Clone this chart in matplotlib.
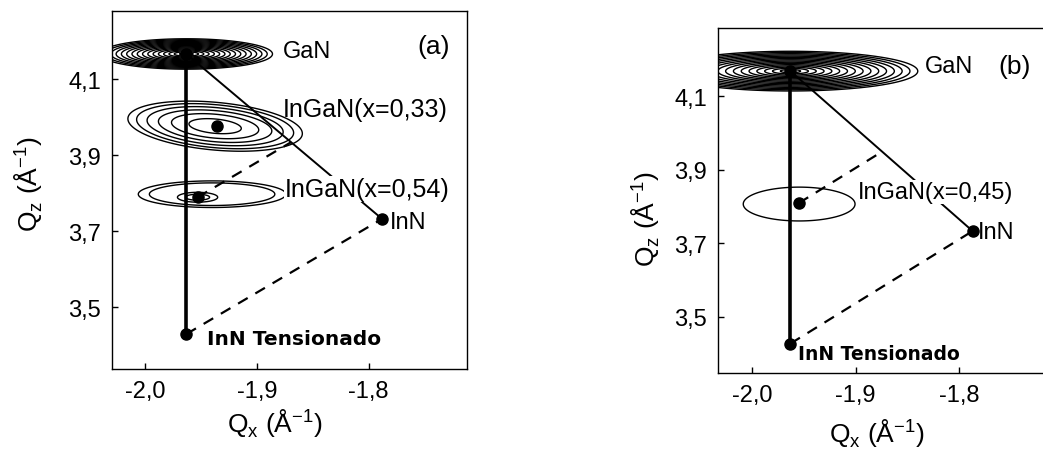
import matplotlib.pyplot as plt
import numpy as np
from matplotlib.ticker import FuncFormatter

plt.rcParams['font.family'] = ['Liberation Sans', 'DejaVu Sans']

# Points read from the maps (Qx, Qz) in 1/Angstrom
# panel (a)
a_gan = (-1.963, 4.166)
a_inn_t = (-1.963, 3.429)
a_inn = (-1.788, 3.732)
a_ingan33 = (-1.9355, 3.976)
a_ingan54 = (-1.953, 3.789)

# panel (b)
b_gan = (-1.963, 4.168)
b_inn_t = (-1.963, 3.427)
b_inn = (-1.787, 3.733)
b_ingan45 = (-1.955, 3.809)

# contour peaks: (cx, cy, half width x, half width y, shear, ring radii)
a_peaks = [
    (-1.963, 4.166, 0.077, 0.040, 0.0, np.linspace(0.08, 1.0, 16)),
    (-1.9373, 3.976, 0.078, 0.063, -0.25, [0.3, 0.5, 0.65, 0.78, 0.9, 1.0]),
    (-1.940, 3.797, 0.066, 0.035, 0.0, [0.85, 1.0]),
    (-1.953, 3.789, 0.018, 0.013, 0.0, [0.6, 1.0]),
]
b_peaks = [
    (-1.963, 4.168, 0.123, 0.054, 0.0, np.linspace(0.08, 1.0, 16)),
    (-1.9546, 3.8065, 0.054, 0.046, 0.0, [1.0]),
]

xticks = [-2.0, -1.9, -1.8]
yticks = [3.5, 3.7, 3.9, 4.1]
a_xlim, a_ylim = (-2.0295, -1.712), (3.337, 4.279)
b_xlim, b_ylim = (-2.033, -1.719), (3.347, 4.285)


def comma(v, pos):
    return f'{v:.1f}'.replace('.', ',')


def meet(p, d, g, h):
    # intersection of line p + t*d with line g -> h
    e = np.subtract(h, g)
    A = np.array([[d[0], -e[0]], [d[1], -e[1]]])
    t, _ = np.linalg.solve(A, np.subtract(g, p))
    return np.add(p, t * np.asarray(d))


def draw_peaks(ax, peaks, xlim, ylim):
    x = np.linspace(*xlim, 700)
    y = np.linspace(*ylim, 700)
    X, Y = np.meshgrid(x, y)
    for cx, cy, wx, wy, sh, radii in peaks:
        R = ((X - cx) / wx) ** 2 + ((Y - cy - sh * (X - cx)) / wy) ** 2
        ax.contour(X, Y, R, levels=np.sort(np.asarray(radii) ** 2),
                   colors='black', linewidths=1.0, zorder=1)


def style(ax, xlim, ylim, right=True):
    ax.set_xlim(*xlim)
    ax.set_ylim(*ylim)
    ax.set_xticks(xticks)
    ax.set_yticks(yticks)
    ax.xaxis.set_major_formatter(FuncFormatter(comma))
    ax.yaxis.set_major_formatter(FuncFormatter(comma))
    ax.tick_params(direction='in', length=4, width=1, labelsize=17, pad=8)
    for s in ax.spines.values():
        s.set_linewidth(1.0)
    ax.spines['right'].set_visible(right)
    ax.set_xlabel(r'Q$_\mathregular{x}$ (Å$^\mathregular{-1}$)', fontsize=19)
    ax.set_ylabel(r'Q$_\mathregular{z}$ (Å$^\mathregular{-1}$)', fontsize=19)


def draw_lines(ax, gan, inn_t, inn, alloys):
    ax.plot([gan[0], inn_t[0]], [gan[1], inn_t[1]], color='black', lw=2.6, zorder=3)
    ax.plot([gan[0], inn[0]], [gan[1], inn[1]], color='black', lw=1.4, zorder=3)
    ax.plot([inn_t[0], inn[0]], [inn_t[1], inn[1]], color='black', lw=1.6,
            ls=(0, (5, 4)), zorder=3)
    d = np.subtract(inn, inn_t)
    for p in alloys:
        end = meet(p, d, gan, inn)
        ax.plot([p[0], end[0]], [p[1], end[1]], color='black', lw=1.6,
                ls=(0, (5, 4)), zorder=3)
    pts = [gan, inn_t, inn] + list(alloys)
    ax.plot([q[0] for q in pts], [q[1] for q in pts], 'o', color='black', ms=8, zorder=4)


fig = plt.figure(figsize=(10.43, 4.52), dpi=100)
wb = dict(facecolor='white', edgecolor='none', pad=0.5)

# panel (a)
ax1 = fig.add_axes([0.1074, 0.1814, 0.3404, 0.792])
draw_peaks(ax1, a_peaks, a_xlim, a_ylim)
draw_lines(ax1, a_gan, a_inn_t, a_inn, [a_ingan54])
ax1.plot([a_ingan33[0]], [a_ingan33[1]], 'o', color='black', ms=8, zorder=4)
style(ax1, a_xlim, a_ylim)
ax1.xaxis.set_label_coords(0.46, -0.105)
ax1.yaxis.set_label_coords(-0.19, 0.52)
ax1.text(-1.877, 4.174, 'GaN', fontsize=17, ha='left', va='center', zorder=5)
ax1.text(-1.7565, 4.187, '(a)', fontsize=19, ha='left', va='center', zorder=5)
ax1.text(-1.877, 4.021, 'InGaN(x=0,33)', fontsize=18, ha='left', va='center', zorder=5)
ax1.text(-1.8747, 3.8105, 'InGaN(x=0,54)', fontsize=18, ha='left', va='center',
         bbox=wb, zorder=5)
ax1.text(-1.7807, 3.7237, 'InN', fontsize=17, ha='left', va='center', zorder=5)
ax1.text(-1.9445, 3.416, 'InN Tensionado', fontsize=14.5, fontfamily='DejaVu Sans',
         fontweight='bold', ha='left', va='center', zorder=5)

# panel (b)
ax2 = fig.add_axes([0.6884, 0.1726, 0.3116, 0.763])
draw_peaks(ax2, b_peaks, b_xlim, b_ylim)
draw_lines(ax2, b_gan, b_inn_t, b_inn, [b_ingan45])
style(ax2, b_xlim, b_ylim, right=False)
ax2.xaxis.set_label_coords(0.49, -0.125)
ax2.yaxis.set_label_coords(-0.172, 0.45)
ax2.text(-1.8328, 4.1815, 'GaN', fontsize=17, ha='left', va='center', zorder=5)
ax2.text(-1.7623, 4.1815, '(b)', fontsize=19, ha='left', va='center', zorder=5)
ax2.text(-1.8976, 3.839, 'InGaN(x=0,45)', fontsize=17, ha='left', va='center',
         bbox=wb, zorder=5)
ax2.text(-1.7816, 3.7304, 'InN', fontsize=17, ha='left', va='center', zorder=5)
ax2.text(-1.9556, 3.399, 'InN Tensionado', fontsize=13.5, fontfamily='DejaVu Sans',
         fontweight='bold', ha='left', va='center', zorder=5)

fig.savefig('out.png', dpi=100)
